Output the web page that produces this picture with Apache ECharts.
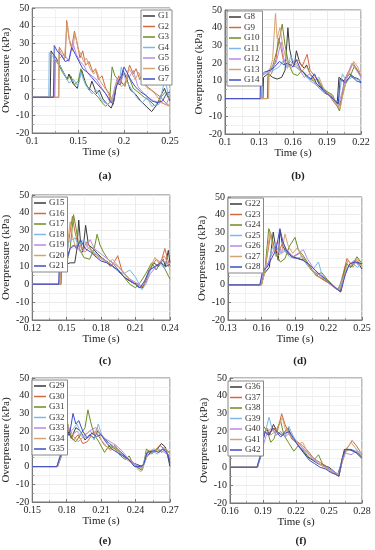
<!DOCTYPE html>
<html><head><meta charset="utf-8">
<script src="https://cdn.jsdelivr.net/npm/echarts@6/dist/echarts.min.js"></script>
<style>html,body{margin:0;padding:0;background:#fff}#c{width:375px;height:550px}</style>
</head><body><div id="c"></div>
<script>
// ---------- data: [time (s), overpressure (kPa)] ----------
// (a)
const G1 = [[0.1,0],[0.1195,0],[0.1205,26],[0.123,24],[0.126,22],[0.13,18],[0.134,14],[0.138,10],[0.14,13],[0.144,8],[0.149,5],[0.152,12],[0.154,15],[0.158,8],[0.162,4],[0.165,9],[0.17,2],[0.173,4],[0.177,-1],[0.182,-4],[0.186,-6],[0.189,-2],[0.192,8],[0.196,7],[0.199,15],[0.203,10],[0.207,4],[0.212,2],[0.218,-2],[0.224,-5],[0.23,-8],[0.232,-9],[0.236,-4],[0.241,2],[0.244,5],[0.247,1],[0.25,-2]];
const G2 = [[0.1,0],[0.129,0],[0.1295,28],[0.133,25],[0.136,22],[0.1375,43],[0.14,33],[0.143,28],[0.146,37],[0.149,30],[0.152,22],[0.155,26],[0.158,18],[0.162,20],[0.166,14],[0.169,16],[0.172,10],[0.176,12],[0.18,5],[0.184,2],[0.188,-3],[0.191,5],[0.194,12],[0.198,8],[0.201,6],[0.204,14],[0.206,18],[0.21,13],[0.213,16],[0.217,10],[0.22,12],[0.225,6],[0.23,4],[0.235,2],[0.24,0],[0.245,-3],[0.25,-5]];
const G3 = [[0.1,0],[0.1245,0],[0.125,21],[0.129,18],[0.133,14],[0.138,10],[0.142,12],[0.146,7],[0.15,9],[0.153,16],[0.156,10],[0.16,6],[0.164,4],[0.168,2],[0.172,0],[0.176,-3],[0.18,-5],[0.184,-3],[0.187,17],[0.19,12],[0.195,9],[0.2,7],[0.205,12],[0.21,5],[0.215,3],[0.222,0],[0.228,-2],[0.234,-5],[0.24,0],[0.245,3],[0.25,-1]];
const G4 = [[0.1,0],[0.118,0],[0.1185,25],[0.124,22],[0.128,20],[0.132,16],[0.136,12],[0.14,8],[0.145,10],[0.15,6],[0.153,14],[0.158,7],[0.165,2],[0.17,4],[0.176,-2],[0.182,-4],[0.187,-2],[0.19,6],[0.195,9],[0.197,17],[0.2,12],[0.205,7],[0.21,3],[0.215,-1],[0.22,-3],[0.225,0],[0.23,-5],[0.238,-4],[0.2445,10],[0.248,2],[0.25,0]];
const G5 = [[0.1,0],[0.124,0],[0.125,20],[0.13,22],[0.135,24],[0.14,20],[0.144,31],[0.148,24],[0.152,20],[0.156,18],[0.16,14],[0.165,12],[0.17,10],[0.176,5],[0.18,2],[0.185,-3],[0.189,3],[0.192,10],[0.196,8],[0.2,14],[0.205,11],[0.21,15],[0.215,6],[0.22,3],[0.226,0],[0.232,-2],[0.24,-3],[0.246,-4],[0.25,1]];
const G6 = [[0.1,0],[0.1285,0],[0.129,27],[0.132,24],[0.135,21],[0.138,42],[0.141,30],[0.144,26],[0.1465,36],[0.15,27],[0.153,24],[0.156,20],[0.159,22],[0.163,16],[0.167,13],[0.17,15],[0.174,9],[0.178,6],[0.182,3],[0.186,-2],[0.19,4],[0.193,10],[0.197,6],[0.202,8],[0.205,16],[0.208,14],[0.212,10],[0.216,14],[0.22,8],[0.226,5],[0.232,3],[0.238,-1],[0.244,-4],[0.25,-5]];
const G7 = [[0.1,0],[0.123,0],[0.124,29],[0.127,26],[0.131,24],[0.136,20],[0.14,21],[0.143,28],[0.147,24],[0.151,20],[0.155,16],[0.16,14],[0.165,11],[0.17,8],[0.175,5],[0.18,2],[0.185,-2],[0.188,-4],[0.191,5],[0.194,9],[0.197,12],[0.2,17],[0.203,14],[0.207,10],[0.212,6],[0.218,3],[0.224,1],[0.23,-2],[0.236,-3],[0.242,-2],[0.246,2],[0.25,3]];
// (b)
const G8 = [[0.1,0],[0.1335,0],[0.134,12],[0.138,14],[0.142,12],[0.146,11],[0.15,12],[0.153,16],[0.1555,40],[0.157,28],[0.159,22],[0.161,18],[0.163,27],[0.166,20],[0.17,17],[0.172,19],[0.175,14],[0.178,12],[0.181,8],[0.185,6],[0.188,3],[0.192,2],[0.196,0],[0.199,-3],[0.2005,12],[0.205,10],[0.21,14],[0.214,12],[0.218,11],[0.22,9]];
const G9 = [[0.1,0],[0.1375,0],[0.138,12],[0.141,14],[0.145,22],[0.147,34],[0.149,30],[0.152,20],[0.156,18],[0.16,20],[0.165,22],[0.168,18],[0.1725,25],[0.175,16],[0.18,12],[0.184,8],[0.188,5],[0.192,2],[0.196,-2],[0.2,-5],[0.203,0],[0.205,10],[0.208,14],[0.213,20],[0.217,16],[0.22,13]];
const G10 = [[0.1,0],[0.1375,0],[0.138,14],[0.142,18],[0.147,30],[0.1505,42],[0.153,30],[0.156,20],[0.16,14],[0.164,13],[0.168,16],[0.172,12],[0.178,10],[0.182,11],[0.186,6],[0.19,4],[0.195,2],[0.198,-3],[0.201,-7],[0.203,0],[0.206,8],[0.21,12],[0.214,18],[0.218,15],[0.22,12]];
const G11 = [[0.1,0],[0.1325,0],[0.133,13],[0.138,15],[0.143,16],[0.148,18],[0.152,22],[0.155,17],[0.158,24],[0.161,20],[0.165,17],[0.17,15],[0.175,10],[0.18,8],[0.185,5],[0.19,3],[0.195,0],[0.2,-2],[0.2035,14],[0.207,10],[0.212,12],[0.216,11],[0.22,10]];
const G12 = [[0.1,0],[0.132,0],[0.133,13],[0.137,15],[0.141,18],[0.145,20],[0.1495,32],[0.152,22],[0.155,19],[0.158,21],[0.162,18],[0.166,16],[0.17,12],[0.175,14],[0.18,8],[0.186,4],[0.192,2],[0.197,-2],[0.2,-4],[0.203,3],[0.206,10],[0.212,20],[0.216,16],[0.22,12]];
const G13 = [[0.1,0],[0.1385,0],[0.139,15],[0.142,22],[0.1445,48],[0.146,34],[0.1485,40],[0.151,30],[0.154,22],[0.158,17],[0.163,20],[0.167,15],[0.172,18],[0.178,10],[0.183,12],[0.188,4],[0.194,2],[0.198,-3],[0.2015,-6],[0.204,2],[0.208,12],[0.2135,21],[0.217,18],[0.22,13]];
const G14 = [[0.1,0],[0.131,0],[0.1315,13],[0.135,15],[0.14,16],[0.144,18],[0.148,21],[0.152,19],[0.155,20],[0.16,18],[0.163,22],[0.167,16],[0.172,13],[0.176,11],[0.179,14],[0.183,8],[0.188,4],[0.193,1],[0.197,-1],[0.2,-3],[0.2015,11],[0.206,9],[0.211,13],[0.216,10],[0.22,9]];
// (c)
const G15 = [[0.12,0],[0.1445,0],[0.145,10],[0.149,11],[0.153,12],[0.157,12],[0.159,20],[0.1605,36],[0.162,24],[0.164,18],[0.1665,33],[0.169,22],[0.173,20],[0.177,17],[0.182,14],[0.187,12],[0.192,9],[0.197,6],[0.202,3],[0.207,1],[0.212,0],[0.216,-2],[0.219,2],[0.222,8],[0.226,12],[0.23,10],[0.234,14],[0.236,10],[0.2385,19],[0.24,12]];
const G16 = [[0.12,0],[0.145,0],[0.1455,10],[0.149,12],[0.152,25],[0.155,38],[0.157,30],[0.16,22],[0.164,20],[0.168,24],[0.172,18],[0.177,16],[0.183,14],[0.188,10],[0.191,12],[0.1945,16],[0.198,8],[0.203,4],[0.208,1],[0.213,-2],[0.217,-1],[0.22,4],[0.224,10],[0.228,14],[0.232,12],[0.2355,20],[0.238,14],[0.24,10]];
const G17 = [[0.12,0],[0.145,0],[0.1455,10],[0.15,12],[0.153,20],[0.156,39],[0.158,32],[0.161,20],[0.165,15],[0.17,14],[0.174,20],[0.1765,28],[0.179,22],[0.182,18],[0.186,14],[0.19,12],[0.195,8],[0.2,4],[0.205,0],[0.21,-2],[0.214,1],[0.219,6],[0.224,12],[0.228,8],[0.232,13],[0.236,8],[0.24,3]];
const G18 = [[0.12,0],[0.1435,0],[0.144,10],[0.148,11],[0.152,24],[0.1575,26],[0.16,22],[0.165,25],[0.169,20],[0.174,18],[0.179,15],[0.184,13],[0.19,10],[0.196,7],[0.2,6],[0.205,8],[0.21,4],[0.2155,-3],[0.219,0],[0.223,8],[0.227,10],[0.231,12],[0.235,9],[0.24,12]];
const G19 = [[0.12,0],[0.144,0],[0.1445,10],[0.148,12],[0.153,20],[0.158,22],[0.162,18],[0.166,20],[0.1705,25],[0.174,20],[0.18,17],[0.186,14],[0.19,12],[0.195,10],[0.2,6],[0.205,3],[0.21,1],[0.215,-1],[0.219,1],[0.223,6],[0.228,10],[0.233,14],[0.237,12],[0.24,10]];
const G20 = [[0.12,0],[0.1445,0],[0.145,11],[0.149,13],[0.153,35],[0.155,27],[0.158,20],[0.162,22],[0.166,18],[0.17,21],[0.175,16],[0.18,14],[0.186,12],[0.19,14],[0.195,10],[0.2,6],[0.205,2],[0.21,0],[0.215,-1],[0.219,3],[0.223,10],[0.227,15],[0.231,11],[0.235,16],[0.238,12],[0.24,8]];
const G21 = [[0.12,0],[0.143,0],[0.1435,10],[0.147,11],[0.15,14],[0.153,20],[0.156,22],[0.159,20],[0.162,25],[0.166,20],[0.171,18],[0.176,15],[0.18,13],[0.185,12],[0.19,10],[0.195,8],[0.2,4],[0.205,2],[0.21,0],[0.214,-2],[0.218,2],[0.222,8],[0.227,10],[0.232,12],[0.236,10],[0.24,11]];
// (d)
const G22 = [[0.13,0],[0.1595,0],[0.162,6],[0.167,10],[0.1705,30],[0.173,20],[0.175,14],[0.1765,31],[0.179,22],[0.183,18],[0.188,16],[0.193,15],[0.198,14],[0.203,10],[0.208,6],[0.213,4],[0.218,2],[0.223,0],[0.227,-2],[0.2305,-4],[0.233,5],[0.236,12],[0.24,10],[0.244,13],[0.247,12],[0.25,9]];
const G23 = [[0.13,0],[0.16,0],[0.163,8],[0.166,20],[0.168,28],[0.171,22],[0.175,18],[0.179,24],[0.184,18],[0.189,16],[0.194,18],[0.199,14],[0.205,8],[0.21,5],[0.215,3],[0.22,1],[0.226,-2],[0.229,-3],[0.233,6],[0.2365,15],[0.24,12],[0.245,14],[0.25,11]];
const G24 = [[0.13,0],[0.16,0],[0.163,8],[0.1665,32],[0.169,28],[0.173,17],[0.177,13],[0.181,15],[0.185,22],[0.19,27],[0.193,20],[0.197,17],[0.202,12],[0.206,8],[0.21,6],[0.214,7],[0.219,3],[0.224,0],[0.228,-3],[0.232,2],[0.236,12],[0.24,10],[0.2455,16],[0.25,12]];
const G25 = [[0.13,0],[0.1585,0],[0.162,8],[0.166,12],[0.169,20],[0.172,24],[0.176,18],[0.18,20],[0.185,16],[0.19,15],[0.196,16],[0.2,12],[0.205,8],[0.211,13],[0.214,6],[0.219,2],[0.224,0],[0.229,-3],[0.233,4],[0.237,10],[0.242,12],[0.246,10],[0.25,12]];
const G26 = [[0.13,0],[0.159,0],[0.162,8],[0.167,14],[0.171,20],[0.1745,25],[0.178,18],[0.183,20],[0.188,16],[0.193,18],[0.1975,20],[0.201,15],[0.206,10],[0.211,6],[0.217,3],[0.222,0],[0.227,-2],[0.231,-4],[0.234,4],[0.238,11],[0.243,14],[0.247,11],[0.25,13]];
const G27 = [[0.13,0],[0.16,0],[0.163,7],[0.1675,30],[0.17,22],[0.173,16],[0.178,18],[0.181,29],[0.184,22],[0.188,18],[0.192,21],[0.197,15],[0.203,10],[0.209,5],[0.214,4],[0.22,2],[0.225,-1],[0.23,-3],[0.234,5],[0.2375,14],[0.242,10],[0.246,15],[0.25,10]];
const G28 = [[0.13,0],[0.1585,0],[0.161,8],[0.165,10],[0.169,15],[0.173,20],[0.1765,32],[0.179,25],[0.182,20],[0.187,16],[0.192,15],[0.197,14],[0.202,12],[0.207,9],[0.212,6],[0.218,3],[0.223,0],[0.227,-2],[0.231,-4],[0.235,6],[0.239,12],[0.244,13],[0.25,12]];
// (e)
const G29 = [[0.15,0],[0.1715,0],[0.174,5],[0.176,10],[0.178,18],[0.181,20],[0.184,16],[0.188,22],[0.192,20],[0.196,15],[0.2,18],[0.204,16],[0.207,20],[0.21,18],[0.214,15],[0.219,12],[0.224,10],[0.229,7],[0.234,4],[0.238,2],[0.242,1],[0.246,0],[0.249,5],[0.253,8],[0.258,9],[0.2625,13],[0.266,11],[0.268,6],[0.27,0]];
const G30 = [[0.15,0],[0.172,0],[0.175,6],[0.177,15],[0.179,25],[0.182,20],[0.186,15],[0.19,18],[0.194,13],[0.198,14],[0.202,18],[0.205,20],[0.209,16],[0.213,12],[0.218,10],[0.222,12],[0.227,7],[0.232,5],[0.237,3],[0.241,0],[0.245,-2],[0.248,3],[0.251,9],[0.256,8],[0.261,12],[0.265,10],[0.27,8]];
const G31 = [[0.15,0],[0.172,0],[0.175,5],[0.178,27],[0.181,24],[0.184,16],[0.188,14],[0.192,18],[0.196,22],[0.1985,32],[0.201,25],[0.204,18],[0.208,14],[0.213,8],[0.217,12],[0.222,10],[0.227,6],[0.231,4],[0.2345,6],[0.238,1],[0.243,-1],[0.246,-2],[0.2495,10],[0.254,7],[0.258,10],[0.263,8],[0.266,10],[0.27,4]];
const G32 = [[0.15,0],[0.1715,0],[0.174,6],[0.177,12],[0.18,22],[0.184,20],[0.189,24],[0.193,18],[0.197,16],[0.201,18],[0.204,15],[0.2075,24],[0.211,17],[0.215,14],[0.22,12],[0.226,8],[0.232,5],[0.237,2],[0.242,0],[0.246,-1],[0.249,7],[0.254,9],[0.259,7],[0.263,10],[0.267,8],[0.27,5]];
const G33 = [[0.15,0],[0.172,0],[0.175,5],[0.178,14],[0.181,22],[0.185,18],[0.189,20],[0.193,17],[0.198,19],[0.202,21],[0.2055,22],[0.209,19],[0.213,16],[0.218,14],[0.223,12],[0.228,9],[0.233,5],[0.238,2],[0.243,0],[0.246,-1],[0.25,6],[0.255,8],[0.26,10],[0.265,8],[0.27,6]];
const G34 = [[0.15,0],[0.172,0],[0.175,6],[0.178,18],[0.1795,27],[0.182,22],[0.186,17],[0.19,14],[0.195,17],[0.2,20],[0.204,18],[0.2065,22],[0.21,15],[0.214,12],[0.218,9],[0.222,11],[0.226,8],[0.232,4],[0.237,2],[0.241,-1],[0.2445,-3],[0.248,2],[0.251,8],[0.256,10],[0.261,8],[0.265,11],[0.27,7]];
const G35 = [[0.15,0],[0.1715,0],[0.174,5],[0.177,10],[0.18,16],[0.183,20],[0.1855,30],[0.188,24],[0.1905,26],[0.194,20],[0.198,16],[0.202,19],[0.206,17],[0.21,18],[0.214,14],[0.219,10],[0.224,8],[0.229,6],[0.234,4],[0.239,0],[0.244,0],[0.247,1],[0.25,8],[0.256,9],[0.26,8],[0.264,10],[0.268,7],[0.27,2]];
// (f)
const G36 = [[0.16,0],[0.1845,0],[0.188,6],[0.19,16],[0.193,22],[0.196,18],[0.1995,24],[0.203,20],[0.207,18],[0.21,20],[0.213,22],[0.216,16],[0.22,14],[0.225,10],[0.23,6],[0.235,4],[0.24,2],[0.245,1],[0.25,0],[0.254,-2],[0.258,-4],[0.261,2],[0.264,10],[0.268,10],[0.272,9],[0.276,8],[0.28,6]];
const G37 = [[0.16,0],[0.185,0],[0.188,8],[0.191,20],[0.195,18],[0.2,22],[0.203,20],[0.207,30],[0.21,24],[0.213,20],[0.217,16],[0.222,14],[0.226,12],[0.231,9],[0.236,5],[0.241,3],[0.246,1],[0.251,-2],[0.256,-4],[0.259,-5],[0.262,4],[0.265,10],[0.268,12],[0.271,15],[0.275,12],[0.28,7]];
const G38 = [[0.16,0],[0.185,0],[0.188,7],[0.1905,23],[0.194,20],[0.197,14],[0.2,16],[0.203,22],[0.206,26],[0.209,18],[0.213,14],[0.218,9],[0.222,12],[0.226,10],[0.231,6],[0.236,4],[0.2405,7],[0.244,2],[0.249,0],[0.253,-2],[0.257,-4],[0.259,-5],[0.262,3],[0.265,9],[0.27,10],[0.275,8],[0.28,5]];
const G39 = [[0.16,0],[0.1845,0],[0.188,8],[0.191,18],[0.193,22],[0.1955,28],[0.198,22],[0.202,18],[0.206,20],[0.21,17],[0.2135,23],[0.217,18],[0.221,14],[0.226,11],[0.231,8],[0.236,5],[0.241,2],[0.246,0],[0.251,-1],[0.256,-3],[0.259,-4],[0.262,5],[0.265,9],[0.27,10],[0.275,9],[0.28,8]];
const G40 = [[0.16,0],[0.185,0],[0.188,6],[0.191,14],[0.194,20],[0.198,22],[0.202,18],[0.206,20],[0.21,17],[0.214,19],[0.218,15],[0.223,12],[0.228,9],[0.233,6],[0.238,3],[0.243,1],[0.248,0],[0.253,-2],[0.258,-4],[0.262,3],[0.265,8],[0.27,7],[0.275,9],[0.28,6]];
const G41 = [[0.16,0],[0.185,0],[0.188,7],[0.191,19],[0.194,22],[0.197,18],[0.201,20],[0.205,24],[0.2075,28],[0.21,22],[0.214,18],[0.218,15],[0.222,13],[0.226,14],[0.231,8],[0.236,5],[0.241,2],[0.246,0],[0.251,-2],[0.256,-4],[0.259,-4],[0.263,6],[0.266,10],[0.27,14],[0.275,10],[0.28,6]];
const G42 = [[0.16,0],[0.1845,0],[0.188,7],[0.19,15],[0.192,20],[0.195,18],[0.199,22],[0.202,20],[0.206,17],[0.21,19],[0.214,20],[0.218,16],[0.222,12],[0.227,8],[0.232,4],[0.237,2],[0.242,0],[0.247,-1],[0.252,-3],[0.256,-4],[0.259,-5],[0.262,5],[0.265,10],[0.27,10],[0.275,8],[0.28,5]];

const seriesData = {G1,G2,G3,G4,G5,G6,G7,G8,G9,G10,G11,G12,G13,G14,G15,G16,G17,G18,G19,G20,G21,G22,G23,G24,G25,G26,G27,G28,G29,G30,G31,G32,G33,G34,G35,G36,G37,G38,G39,G40,G41,G42};

const panelSeries = [
  ['G1','G2','G3','G4','G5','G6','G7'],
  ['G8','G9','G10','G11','G12','G13','G14'],
  ['G15','G16','G17','G18','G19','G20','G21'],
  ['G22','G23','G24','G25','G26','G27','G28'],
  ['G29','G30','G31','G32','G33','G34','G35'],
  ['G36','G37','G38','G39','G40','G41','G42']
];
const xMins = [0.1, 0.1, 0.12, 0.13, 0.15, 0.16];
const xMaxs = [0.25, 0.22, 0.24, 0.25, 0.27, 0.28];
const xSteps = [0.05, 0.03, 0.03, 0.03, 0.03, 0.03];
const panelLabels = ['(a)','(b)','(c)','(d)','(e)','(f)'];
const yMin = -20, yMax = 50, yStep = 10;
const xTitle = 'Time (s)';
const yTitle = 'Overpressure (kPa)';

// ---------- layout / style ----------
const colors = ['#3a3a3a','#d2693c','#6b8e23','#7ab8e8','#b98ae6','#d4a373','#3c4ec8'];
const FONT = '"Liberation Serif","Times New Roman",serif';
const grids = [
  {left:31, top:8,   width:139, height:125},
  {left:225,top:10,  width:136, height:124},
  {left:32, top:195, width:138, height:125},
  {left:228,top:197, width:134, height:123},
  {left:32, top:378, width:138, height:124},
  {left:230,top:378, width:132, height:125}
];
const legendPos = [
  {left:141, top:10},
  {left:227, top:11},
  {left:32,  top:197},
  {left:228, top:198},
  {left:32,  top:380},
  {left:228, top:381}
];
const labelPos = [[100,166],[293,166],[100,351],[295,351],[100,531],[296,531]];

const fmt = v => String(+v.toFixed(3));
const option = {
  animation:false,
  backgroundColor:'#fff',
  title: panelLabels.map((t,i)=>({text:t, left:labelPos[i][0], top:labelPos[i][1], textAlign:'center',
    textStyle:{fontFamily:FONT, fontSize:11, fontWeight:'bold', color:'#222'}})),
  grid: grids.map(g=>Object.assign({show:true, borderColor:'#777', borderWidth:1, backgroundColor:'transparent'}, g)),
  xAxis: grids.map((g,i)=>({
    type:'value', gridIndex:i, min:xMins[i], max:xMaxs[i], interval:xSteps[i],
    name:xTitle, nameLocation:'middle', nameGap:14,
    nameTextStyle:{fontFamily:FONT, fontSize:11, color:'#222'},
    axisLine:{show:true, onZero:false, lineStyle:{color:'#777'}},
    axisTick:{show:true, inside:true, length:3, lineStyle:{color:'#777'}},
    minorTick:{show:true, splitNumber:2, length:2, lineStyle:{color:'#999'}},
    axisLabel:{fontFamily:FONT, fontSize:10, color:'#222', margin:3, formatter:fmt, showMinLabel:true, showMaxLabel:true},
    splitLine:{show:true, lineStyle:{color:'#e6e6e6', width:0.8}},
    minorSplitLine:{show:true, lineStyle:{color:'#efefef', width:0.8}}
  })),
  yAxis: grids.map((g,i)=>({
    type:'value', gridIndex:i, min:yMin, max:yMax, interval:yStep,
    name:yTitle, nameLocation:'middle', nameGap:18,
    nameTextStyle:{fontFamily:FONT, fontSize:11, color:'#222'},
    axisLine:{show:true, onZero:false, lineStyle:{color:'#777'}},
    axisTick:{show:true, inside:true, length:3, lineStyle:{color:'#777'}},
    minorTick:{show:true, splitNumber:2, length:2, lineStyle:{color:'#999'}},
    axisLabel:{fontFamily:FONT, fontSize:10, color:'#222', margin:3},
    splitLine:{show:true, lineStyle:{color:'#e6e6e6', width:0.8}},
    minorSplitLine:{show:true, lineStyle:{color:'#efefef', width:0.8}}
  })),
  legend: panelSeries.map((names,i)=>({
    data:names, orient:'vertical', left:legendPos[i].left, top:legendPos[i].top,
    itemWidth:12, itemHeight:1.5, itemGap:0.5, icon:'rect',
    padding:[1,3,1,2], borderColor:'#888', borderWidth:1, backgroundColor:'#fff',
    textStyle:{fontFamily:FONT, fontSize:9, color:'#333', padding:[0,0,0,-2], lineHeight:10},
    selectedMode:false
  })),
  series: []
};
panelSeries.forEach((names,i)=>{
  names.forEach((n,k)=>{
    option.series.push({
      name:n, type:'line', xAxisIndex:i, yAxisIndex:i, data:seriesData[n],
      showSymbol:false, symbol:'none', color:colors[k],
      lineStyle:{width:1, color:colors[k]}, z:2
    });
  });
});
const chart = echarts.init(document.getElementById('c'), null, {renderer:'canvas'});
chart.setOption(option);
</script>
</body></html>
